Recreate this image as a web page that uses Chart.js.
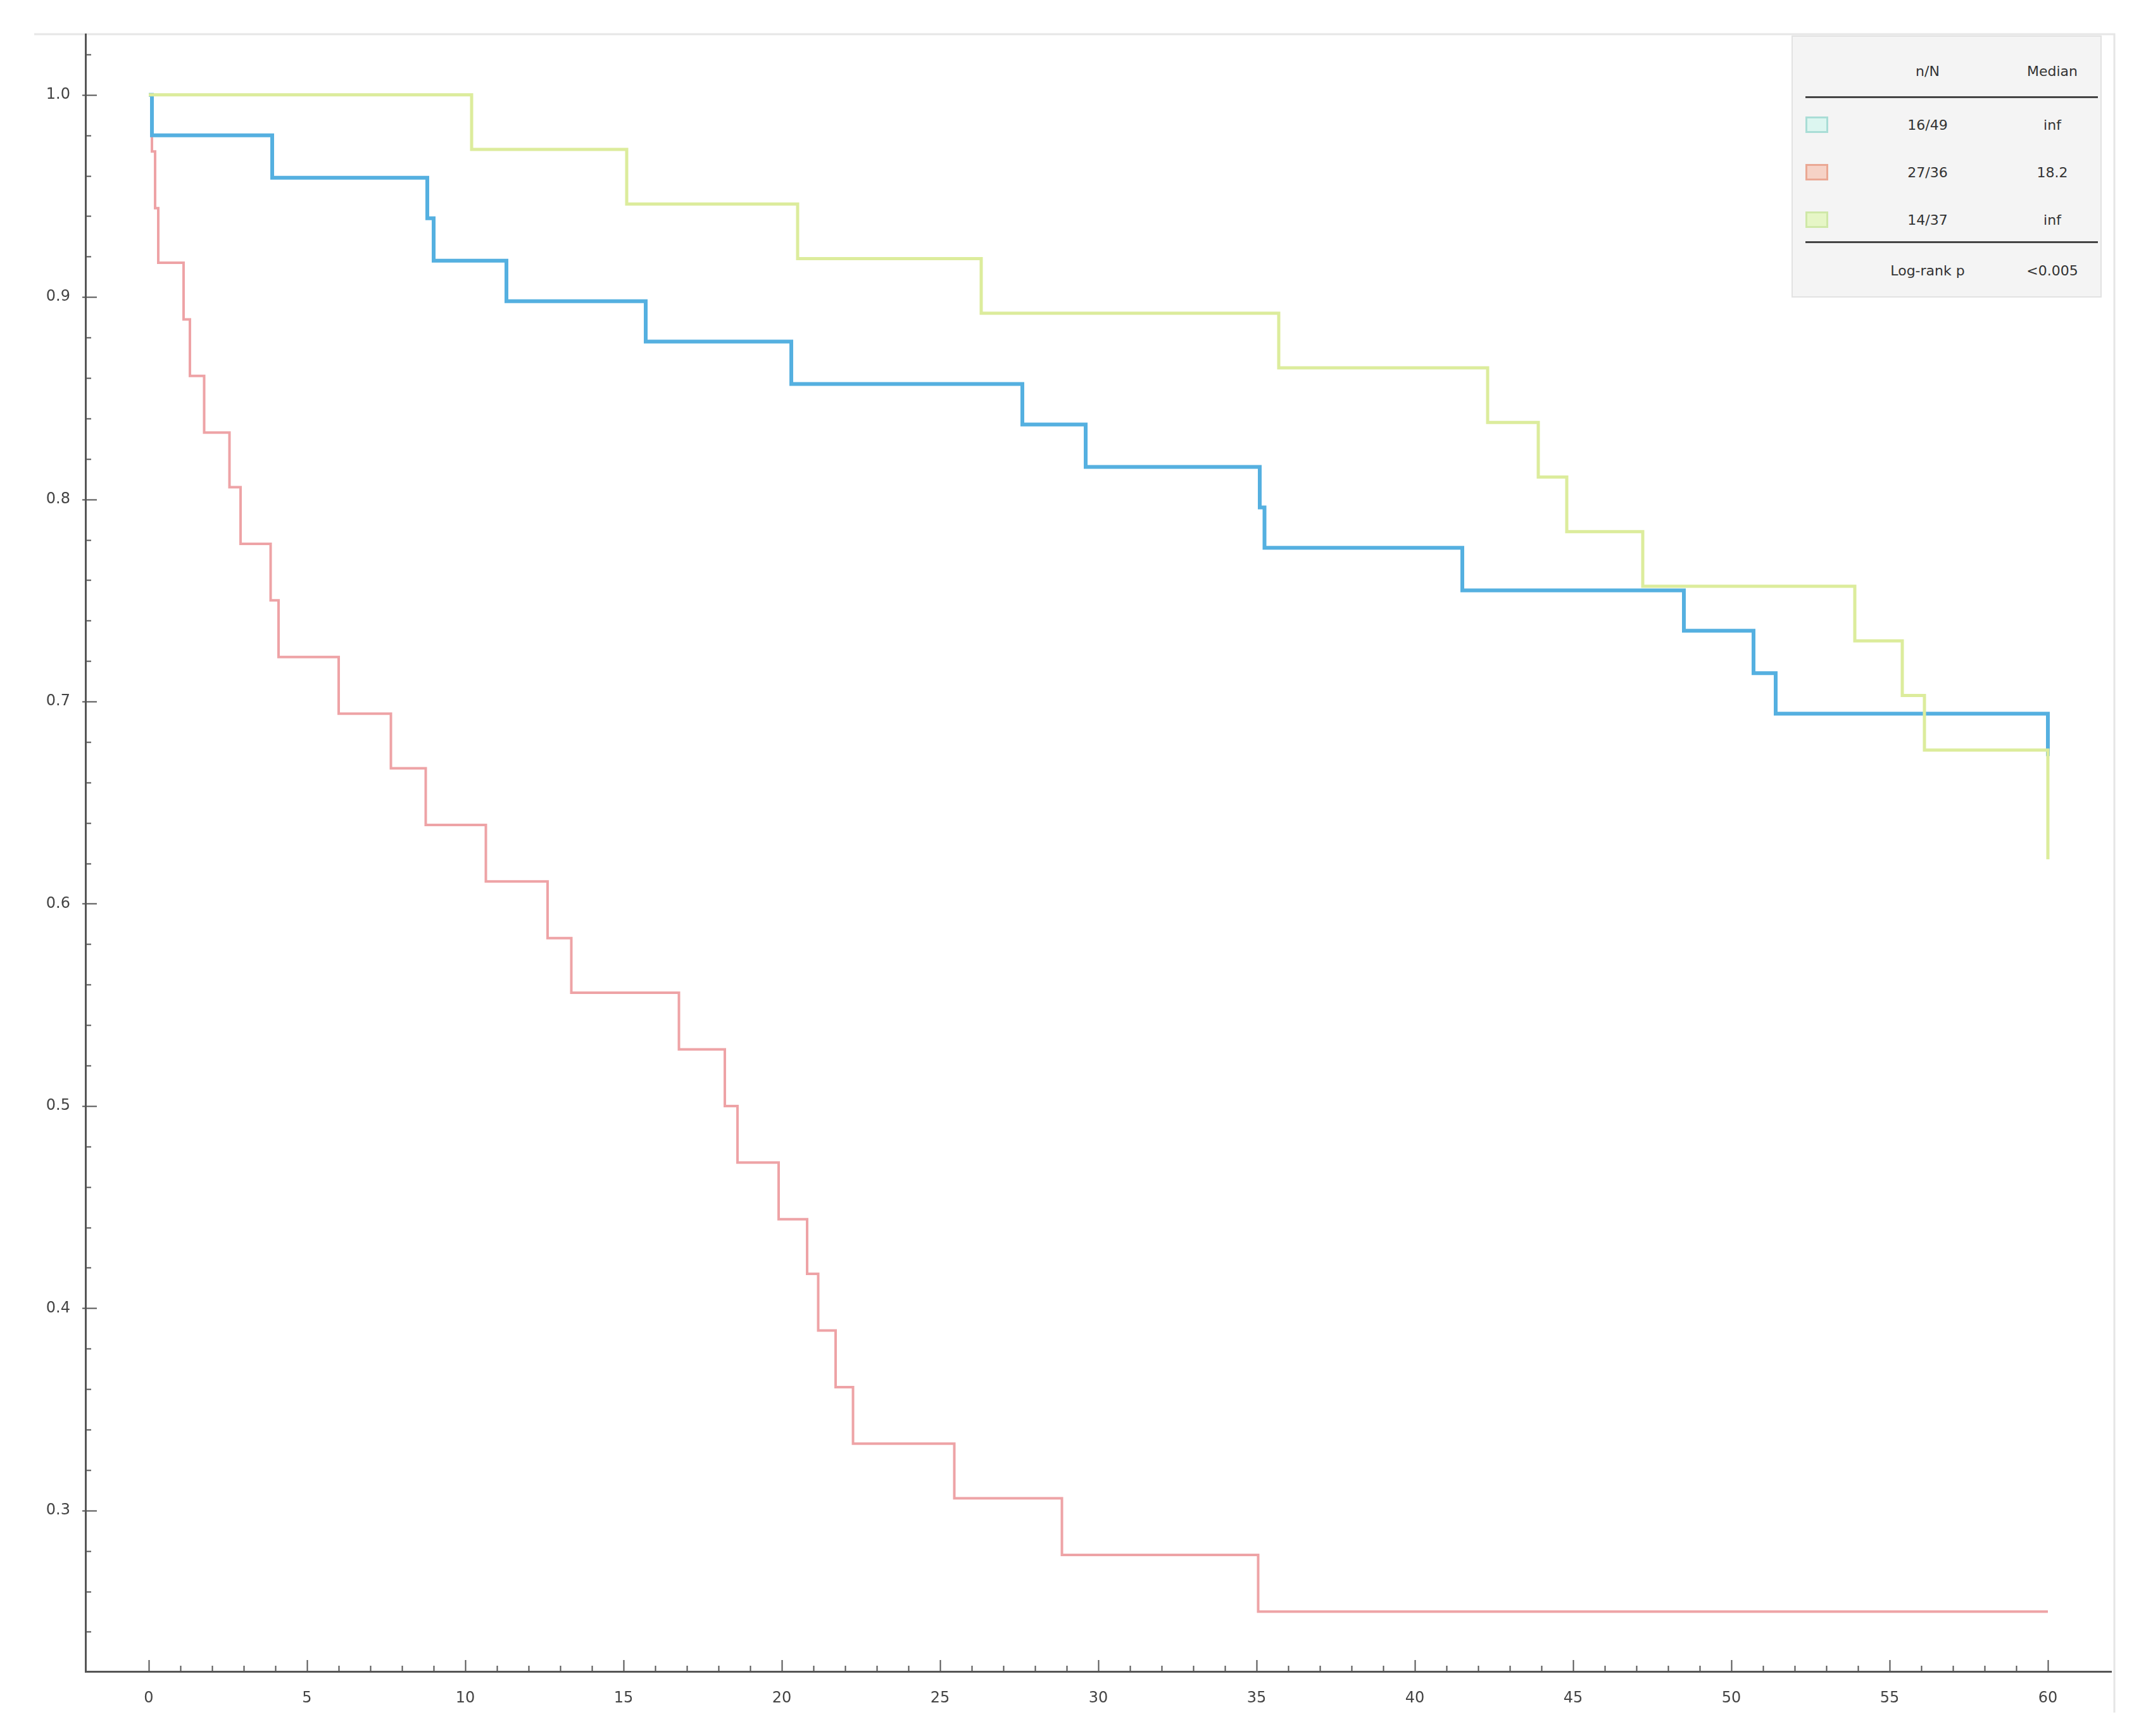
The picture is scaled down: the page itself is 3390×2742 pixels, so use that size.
<!DOCTYPE html>
<html><head><meta charset="utf-8">
<script src="https://cdn.jsdelivr.net/npm/chart.js@4.4.0/dist/chart.umd.min.js"></script>
<style>
html,body{margin:0;padding:0;background:#fff;}
#wrap{position:relative;width:3390px;height:2742px;}
#c{position:absolute;left:0;top:0;}
#legend{position:absolute;left:2830px;top:56px;width:490px;height:414px;background:#f4f4f4;border:2px solid #e2e2e2;box-sizing:border-box;font-family:"DejaVu Sans",sans-serif;font-size:22px;color:#333;}
.t{position:absolute;transform:translate(-50%,-50%);white-space:nowrap;}
.hl{position:absolute;height:3px;background:#444;left:20px;width:462px;}
.sq{position:absolute;width:36px;height:26px;box-sizing:border-box;border:3px solid;left:20px;transform:translateY(-50%);}
</style></head>
<body>
<div id="wrap">
<canvas id="c" width="3390" height="2742"></canvas>
<div id="legend">
  <div class="t" style="left:213px;top:54px;">n/N</div>
  <div class="t" style="left:410px;top:54px;">Median</div>
  <div class="hl" style="top:94px;"></div>
  <div class="sq" style="top:139px;border-color:#a9ddd6;background:#dcf6f0;"></div>
  <div class="t" style="left:213px;top:139px;">16/49</div>
  <div class="t" style="left:410px;top:139px;">inf</div>
  <div class="sq" style="top:214px;border-color:#eaa894;background:#f6d2c6;"></div>
  <div class="t" style="left:213px;top:214px;">27/36</div>
  <div class="t" style="left:410px;top:214px;">18.2</div>
  <div class="sq" style="top:289px;border-color:#cfe8a8;background:#e6f6c6;"></div>
  <div class="t" style="left:213px;top:289px;">14/37</div>
  <div class="t" style="left:410px;top:289px;">inf</div>
  <div class="hl" style="top:323px;"></div>
  <div class="t" style="left:213px;top:369px;">Log-rank p</div>
  <div class="t" style="left:410px;top:369px;">&lt;0.005</div>
</div>
</div>
<script>
// ---- data ----
const groupNames = ['C1', 'C2', 'C3'];
const c1Times = [0, 0.1, 3.9, 8.8, 9.0, 11.3, 15.7, 20.3, 27.6, 29.6, 35.1, 35.25, 41.5, 48.5, 50.7, 51.4, 60];
const c1Surv  = [1.0, 0.980, 0.959, 0.939, 0.918, 0.898, 0.878, 0.857, 0.837, 0.816, 0.796, 0.776, 0.755, 0.735, 0.714, 0.694, 0.673];
const c2Times = [0, 0.1, 0.2, 0.3, 1.1, 1.3, 1.75, 2.55, 2.9, 3.85, 4.1, 6.0, 7.65, 8.75, 10.65, 12.6, 13.35, 16.75, 18.2, 18.6, 19.9, 20.8, 21.15, 21.7, 22.25, 25.45, 28.85, 35.05, 60];
const c2Surv  = [1.0, 0.972, 0.944, 0.917, 0.889, 0.861, 0.833, 0.806, 0.778, 0.750, 0.722, 0.694, 0.667, 0.639, 0.611, 0.583, 0.556, 0.528, 0.500, 0.472, 0.444, 0.417, 0.389, 0.361, 0.333, 0.306, 0.278, 0.250, 0.250];
const c3Times = [0, 10.2, 15.1, 20.5, 26.3, 35.7, 42.3, 43.9, 44.8, 47.2, 53.9, 55.4, 56.1, 60, 60];
const c3Surv  = [1.0, 0.973, 0.946, 0.919, 0.892, 0.865, 0.838, 0.811, 0.784, 0.757, 0.730, 0.703, 0.676, 0.649, 0.622];
const xTickValues = [0, 5, 10, 15, 20, 25, 30, 35, 40, 45, 50, 55, 60];
const yTickValues = [0.3, 0.4, 0.5, 0.6, 0.7, 0.8, 0.9, 1.0];

const toPts = (t, s) => t.map((v, i) => ({x: v, y: s[i]}));

const tickPlugin = {
  id: 'kmTicks',
  beforeDraw(chart) {
    const ctx = chart.ctx, a = chart.chartArea;
    ctx.save();
    ctx.strokeStyle = '#e6e6e6';
    ctx.lineWidth = 3;
    ctx.beginPath();
    ctx.moveTo(54, a.top); ctx.lineTo(a.right + 5, a.top); ctx.lineTo(a.right + 5, 2705);
    ctx.stroke();
    ctx.restore();
  },
  afterDraw(chart) {
    const ctx = chart.ctx, a = chart.chartArea;
    const xs = chart.scales.x, ys = chart.scales.y;
    ctx.save();
    ctx.strokeStyle = '#555';
    ctx.lineWidth = 2;
    ctx.beginPath();
    for (let v = 0; v <= 60; v++) {
      const px = Math.round(xs.getPixelForValue(v)) + 0.5;
      const len = v % 5 === 0 ? 18 : 9;
      ctx.moveTo(px, a.bottom); ctx.lineTo(px, a.bottom - len);
    }
    for (let i = 12; i <= 51; i++) {
      const py = Math.round(ys.getPixelForValue(i * 0.02)) + 0.5;
      const len = i % 5 === 0 ? 18 : 9;
      ctx.moveTo(a.left - (i % 5 === 0 ? 5 : 0), py); ctx.lineTo(a.left + len, py);
    }
    ctx.stroke();
    ctx.restore();
  }
};

new Chart(document.getElementById('c'), {
  type: 'line',
  data: {
    datasets: [
      {label: groupNames[2], data: toPts(c3Times, c3Surv), borderColor: '#dcec9c', borderWidth: 5},
      {label: groupNames[0], data: toPts(c1Times, c1Surv), borderColor: '#55b0e0', borderWidth: 6},
      {label: groupNames[1], data: toPts(c2Times, c2Surv), borderColor: '#eea3a6', borderWidth: 4}
    ].map(d => Object.assign(d, {stepped: 'before', pointRadius: 0, fill: false, tension: 0}))
  },
  options: {
    responsive: false,
    animation: false,
    devicePixelRatio: 1,
    layout: {padding: {left: 0, top: 54, right: 55, bottom: 0}},
    plugins: {legend: {display: false}, tooltip: {enabled: false}},
    scales: {
      x: {
        type: 'linear', min: -2, max: 62,
        afterBuildTicks: s => { s.ticks = xTickValues.map(v => ({value: v})); },
        afterFit: s => { s.height = 102; },
        grid: {display: false, drawTicks: false},
        border: {display: true, color: '#555', width: 3},
        ticks: {padding: 28, autoSkip: false, maxRotation: 0, color: '#444',
                font: {size: 24, family: 'DejaVu Sans'}, callback: v => String(v)}
      },
      y: {
        type: 'linear', min: 0.2204, max: 1.03,
        afterBuildTicks: s => { s.ticks = yTickValues.map(v => ({value: v})); },
        afterFit: s => { s.width = 135; },
        grid: {display: false, drawTicks: false},
        border: {display: true, color: '#555', width: 3},
        ticks: {padding: 24, autoSkip: false, color: '#444',
                font: {size: 24, family: 'DejaVu Sans'}, callback: v => Number(v).toFixed(1)}
      }
    }
  },
  plugins: [tickPlugin]
});
</script>
</body></html>
